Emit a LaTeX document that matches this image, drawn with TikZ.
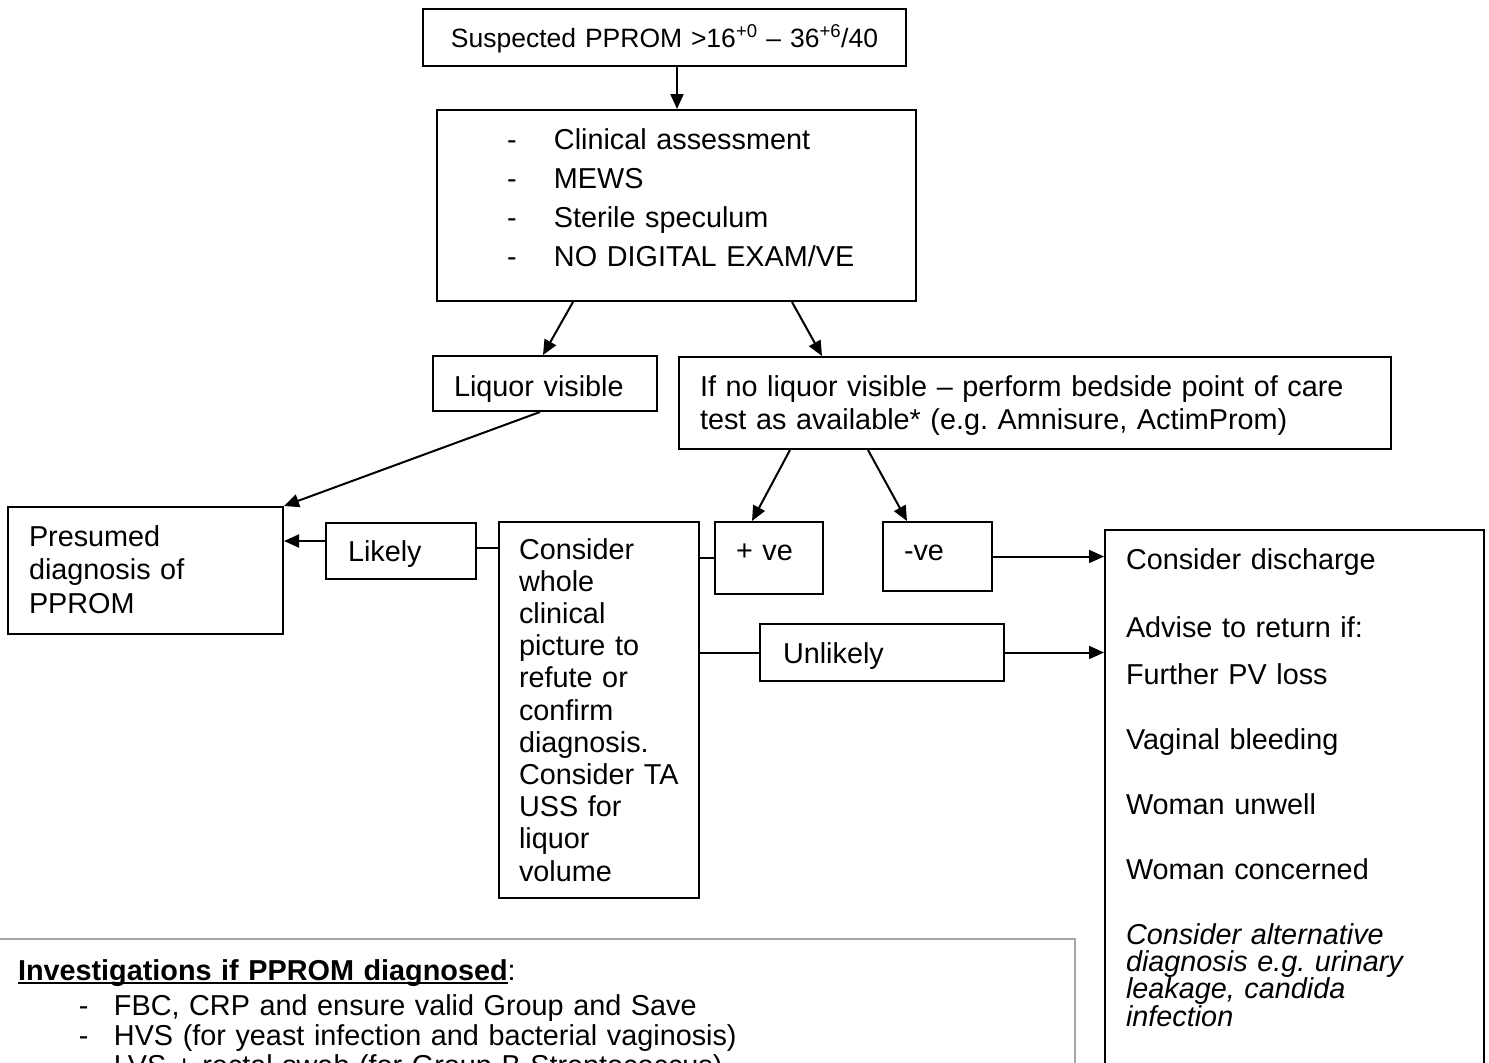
\documentclass[tikz,border=0pt]{standalone}
\usepackage{fontspec}
\setmainfont{Liberation Sans}
\usetikzlibrary{arrows.meta}

\newcommand{\dashline}[1]{\makebox[47pt][l]{-}\mbox{#1}}
\newcommand{\invline}[1]{\hspace*{61pt}\makebox[35pt][l]{-}#1}
\newsavebox{\ulbox}
\newcommand{\ulhead}[1]{\sbox{\ulbox}{#1}\rlap{\rule[-4pt]{\wd\ulbox}{2pt}}\usebox{\ulbox}}

\begin{document}
\begin{tikzpicture}[x=1pt, y=-1pt,
		box/.style={draw, line width=2pt, anchor=north west, inner ysep=0pt, align=left,
			font={\fontsize{28.8}{33}\selectfont}},
		arr/.style={-{Triangle[length=15pt,width=13pt]}, line width=2pt},
		link/.style={line width=2pt}]
				
				\useasboundingbox (0,0) rectangle (1489,1063);
				
				% Draw the entry box and the first assessment.
				\node[box, align=center, text width=463pt, inner xsep=10pt, text height=38pt, text depth=19pt,
					font={\fontsize{26.5}{30}\selectfont}] (susp) at (422,8)
					{\mbox{Suspected PPROM >16\textsuperscript{+0} – 36\textsuperscript{+6}/40}};
				\node[box, text width=339pt, inner xsep=70pt, text height=39pt, text depth=152pt,
					font={\fontsize{28.8}{39.3}\selectfont}] (clin) at (436,109)
					{\dashline{Clinical assessment}\\ \dashline{MEWS}\\ \dashline{Sterile speculum}\\ \dashline{NO DIGITAL EXAM/VE}};
				
				% Draw the two outcomes of the speculum.
				\node[box, text width=182pt, inner xsep=21pt, text height=40pt, text depth=15pt] (liq) at (432,355) {Liquor visible};
				\node[box, text width=670pt, inner xsep=21pt, text height=39pt, text depth=53pt] (ifno) at (678,356)
					{If no liquor visible – perform bedside point of care\\ test as available* (e.g.\ Amnisure, ActimProm)};
				
				% Draw the middle row.
				\node[box, text width=233pt, inner xsep=21pt, text height=39pt, text depth=88pt,
					font={\fontsize{28.8}{33.5}\selectfont}] (pres) at (7,506) {Presumed\\ diagnosis of\\ PPROM};
				\node[box, text width=106pt, inner xsep=22pt, text height=38pt, text depth=18pt] (likely) at (325,522) {Likely};
				\node[box, text width=160pt, inner xsep=20pt, text height=37pt, text depth=339pt,
					font={\fontsize{28.8}{32.2}\selectfont}] (cons) at (498,521)
					{Consider\\ whole\\ clinical\\ picture~to\\ refute~or\\ confirm\\ diagnosis.\\ Consider~TA\\ USS~for\\ liquor\\ volume};
				\node[box, text width=66pt, inner xsep=21pt, text height=38pt, text depth=34pt] (pos) at (714,521) {+ ve};
				\node[box, text width=67pt, inner xsep=21pt, text height=38pt, text depth=31pt] (neg) at (882,521) {-ve};
				\node[box, text width=198pt, inner xsep=23pt, text height=39pt, text depth=18pt] (unl) at (759,623) {Unlikely};
				
				% Draw the discharge advice (runs off the page).
				\node[box, text width=337pt, inner xsep=21pt, text height=39pt, text depth=540pt,
					font={\fontsize{28.8}{27.4}\selectfont\lineskiplimit=-100pt}] (adv) at (1104,529)
					{Consider discharge\\[40.6pt] Advise to return if:\\[19.6pt] Further PV loss\\[37.6pt]
					 Vaginal bleeding\\[37.6pt] Woman unwell\\[37.6pt] Woman concerned\\[37.6pt]
					 {\itshape Consider alternative\\ diagnosis e.g.\ urinary\\ leakage, candida\\ infection}};
				
				% Draw the investigations panel (runs off the page).
				\node[box, draw=gray!70, text width=1037pt, inner xsep=20pt, text height=41pt, text depth=160pt,
					font={\fontsize{28.8}{30}\selectfont\lineskiplimit=-100pt}] (inv) at (-3,938)
					{\ulhead{\textbf{Investigations if PPROM diagnosed}}:\\[5pt]
					 \invline{FBC, CRP and ensure valid Group and Save}\\
					 \invline{HVS (for yeast infection and bacterial vaginosis)}\\
					 \invline{LVS + rectal swab (for Group B Streptococcus)}};
				
				% Draw the arrows.
				\draw[arr] (susp.south -| 677,0) -- (clin.north -| 677,0);
				\draw[arr] (clin.south -| 573,0) -- (liq.north -| 543,0);
				\draw[arr] (clin.south -| 792,0) -- (ifno.north -| 822,0);
				\draw[arr] (liq.south -| 540,0) -- (pres.north east);
				\draw[arr] (ifno.south -| 790,0) -- (pos.north -| 752,0);
				\draw[arr] (ifno.south -| 868,0) -- (neg.north -| 907,0);
				\draw[arr] (likely.west |- 0,541) -- (pres.east |- 0,541);
				\draw[link] (cons.west |- 0,548) -- (likely.east |- 0,548);
				\draw[link] (cons.east |- pos.west) -- (pos.west);
				\draw[link] (cons.east |- unl.west) -- (unl.west);
				\draw[arr] (neg.east) -- (neg.east -| adv.west);
				\draw[arr] (unl.east) -- (unl.east -| adv.west);
				
\end{tikzpicture}
\end{document}
